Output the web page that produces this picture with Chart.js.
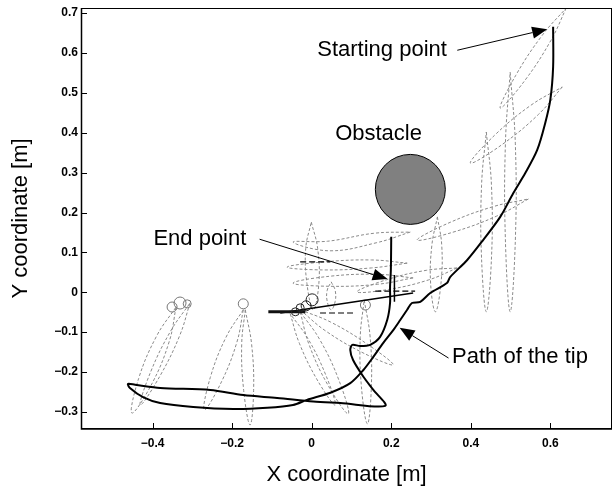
<!DOCTYPE html>
<html>
<head>
<meta charset="utf-8">
<script src="https://cdn.jsdelivr.net/npm/chart.js@4.4.0/dist/chart.umd.min.js"></script>
<style>
  html, body { margin: 0; padding: 0; background: #fff; }
  canvas { display: block; }
</style>
</head>
<body>
<canvas id="graph" width="614" height="491"></canvas>
<script>
// axis ticks
var xTicks = [-0.4, -0.2, 0, 0.2, 0.4, 0.6];
var yTicks = [-0.3, -0.2, -0.1, 0, 0.1, 0.2, 0.3, 0.4, 0.5, 0.6, 0.7];

// path of the tip [x, y] in m
var tipPath = [
  [0.607, 0.666], [0.607, 0.566], [0.600, 0.483], [0.587, 0.424], [0.567, 0.357],
  [0.537, 0.299], [0.507, 0.249], [0.474, 0.189], [0.431, 0.131], [0.391, 0.081],
  [0.348, 0.038], [0.340, 0.023], [0.298, -0.002], [0.273, -0.024], [0.252, -0.027],
  [0.240, -0.044], [0.223, -0.069], [0.205, -0.095], [0.180, -0.127], [0.155, -0.162],
  [0.130, -0.195], [0.097, -0.228], [0.047, -0.252], [-0.012, -0.270], [-0.047, -0.283],
  [-0.112, -0.290], [-0.197, -0.293], [-0.298, -0.288], [-0.381, -0.278], [-0.424, -0.263],
  [-0.457, -0.240], [-0.462, -0.230], [-0.444, -0.232], [-0.381, -0.240], [-0.255, -0.245],
  [-0.172, -0.258], [-0.087, -0.265], [0.004, -0.274], [0.072, -0.278], [0.185, -0.285],
  [0.155, -0.245], [0.130, -0.212], [0.104, -0.170], [0.097, -0.145], [0.102, -0.132],
  [0.122, -0.135], [0.147, -0.132], [0.172, -0.112], [0.190, -0.069], [0.197, -0.027],
  [0.197, 0.013], [0.199, 0.056], [0.200, 0.139]
];

// dashed outlines of the links (manipulator snapshots)
var linkOutlines = [
  [[0.640, 0.713], [0.601, 0.631], [0.535, 0.530], [0.474, 0.462], [0.513, 0.544], [0.580, 0.645], [0.640, 0.713]],
  [[0.630, 0.515], [0.570, 0.446], [0.478, 0.370], [0.399, 0.324], [0.459, 0.393], [0.551, 0.469], [0.630, 0.515]],
  [[0.499, 0.552], [0.512, 0.372], [0.512, 0.131], [0.499, -0.049], [0.487, 0.131], [0.487, 0.372], [0.499, 0.552]],
  [[0.439, 0.402], [0.452, 0.267], [0.452, 0.086], [0.439, -0.049], [0.427, 0.086], [0.427, 0.267], [0.439, 0.402]],
  [[0.316, 0.189], [0.327, 0.117], [0.325, 0.022], [0.311, -0.049], [0.299, 0.022], [0.302, 0.117], [0.316, 0.189]],
  [[0.545, 0.234], [0.465, 0.191], [0.353, 0.150], [0.265, 0.131], [0.345, 0.174], [0.457, 0.215], [0.545, 0.234]],
  [[0.248, 0.151], [0.162, 0.124], [0.044, 0.104], [-0.047, 0.126], [0.040, 0.128], [0.157, 0.148], [0.248, 0.151]],
  [[0.255, 0.036], [0.165, 0.020], [0.044, 0.015], [-0.047, 0.023], [0.044, 0.040], [0.165, 0.045], [0.255, 0.036]],
  [[0.366, 0.061], [0.294, 0.031], [0.193, 0.007], [0.114, 0.001], [0.187, 0.031], [0.288, 0.055], [0.366, 0.061]],
  [[0.240, 0.073], [0.150, 0.061], [0.029, 0.056], [-0.062, 0.063], [0.029, 0.076], [0.150, 0.081], [0.240, 0.073]],
  [[-0.001, 0.176], [0.015, 0.110], [0.018, 0.022], [0.004, -0.044], [-0.012, 0.022], [-0.015, 0.110], [-0.001, 0.176]],
  [[0.049, 0.026], [0.059, 0.005], [0.059, -0.023], [0.049, -0.044], [0.039, -0.023], [0.039, 0.005], [0.049, 0.026]],
  [[0.132, -0.019], [0.147, -0.113], [0.150, -0.237], [0.140, -0.330], [0.125, -0.237], [0.122, -0.113], [0.132, -0.019]],
  [[-0.029, -0.044], [0.035, -0.097], [0.129, -0.152], [0.205, -0.182], [0.141, -0.131], [0.048, -0.075], [-0.029, -0.044]],
  [[-0.029, -0.049], [-0.006, -0.133], [0.042, -0.235], [0.092, -0.305], [0.069, -0.222], [0.021, -0.120], [-0.029, -0.049]],
  [[-0.054, -0.054], [-0.031, -0.128], [0.014, -0.220], [0.059, -0.283], [0.036, -0.209], [-0.009, -0.117], [-0.054, -0.054]],
  [[-0.172, -0.044], [-0.188, -0.125], [-0.227, -0.225], [-0.270, -0.295], [-0.255, -0.214], [-0.216, -0.114], [-0.172, -0.044]],
  [[-0.167, -0.044], [-0.151, -0.131], [-0.146, -0.246], [-0.155, -0.333], [-0.171, -0.246], [-0.176, -0.131], [-0.167, -0.044]],
  [[-0.341, -0.037], [-0.358, -0.123], [-0.402, -0.230], [-0.452, -0.303], [-0.435, -0.216], [-0.390, -0.110], [-0.341, -0.037]],
  [[-0.306, -0.027], [-0.332, -0.109], [-0.382, -0.211], [-0.431, -0.283], [-0.405, -0.200], [-0.355, -0.098], [-0.306, -0.027]]
];

// small joint circles
var grayJoints = [[-0.351, -0.037], [-0.331, -0.027], [-0.313, -0.029], [-0.172, -0.029], [0.135, -0.032]];
var blackJoints = [[0.001, -0.019], [-0.014, -0.034], [-0.029, -0.039], [-0.041, -0.049]];

// solid black link segments and dashed black segments
var solidLinks = [
  [[-0.079, -0.052], [0.255, -0.002]],
  [[0.208, 0.043], [0.208, -0.024]]
];
var dashedLinks = [
  [[-0.029, 0.076], [0.047, 0.076]],
  [[0.160, 0.003], [0.260, 0.003]],
  [[0.021, -0.052], [0.109, -0.052]]
];
var gripper = [[-0.109, -0.049], [-0.016, -0.049]];

var obstacleCenter = [0.248, 0.258];

// annotations
var noteText = ["Starting point", "Obstacle", "End point", "Path of the tip"];
var noteX = [0.014, 0.059, -0.398, 0.353];
var noteY = [0.607, 0.397, 0.134, -0.161];
var arrowTail = [[0.366, 0.607], null, [-0.131, 0.133], [0.344, -0.165]];
var arrowTip = [[0.592, 0.660], null, [0.191, 0.033], [0.221, -0.089]];

function toPoints(arr) {
  return arr.map(function(p) { return { x: p[0], y: p[1] }; });
}

function tickLabel(v) {
  if (Math.abs(v) < 1e-9) return "0";
  return (v < 0 ? "\u2212" : "") + Math.abs(v).toFixed(1);
}

var datasets = [];

datasets.push({
  label: "Path of the tip",
  data: toPoints(tipPath),
  showLine: true,
  borderColor: "#000",
  borderWidth: 2,
  pointRadius: 0,
  tension: 0.3,
  order: 1
});

datasets.push({
  label: "Obstacle",
  data: toPoints([obstacleCenter]),
  pointRadius: 35,
  backgroundColor: "#808080",
  borderColor: "#000",
  borderWidth: 1,
  order: 2
});

datasets.push({
  label: "black joints",
  data: toPoints(blackJoints),
  pointRadius: [6, 5, 4, 4],
  backgroundColor: "rgba(255,255,255,0)",
  borderColor: "#222",
  borderWidth: 1,
  order: 3
});

datasets.push({
  label: "gray joints",
  data: toPoints(grayJoints),
  pointRadius: [5, 6, 4, 5, 5],
  backgroundColor: "rgba(255,255,255,0)",
  borderColor: "#777",
  borderWidth: 1,
  order: 4
});

datasets.push({
  label: "gripper",
  data: toPoints(gripper),
  showLine: true,
  borderColor: "#111",
  borderWidth: 3,
  pointRadius: 0,
  order: 3
});

solidLinks.forEach(function(seg) {
  datasets.push({
    label: "link",
    data: toPoints(seg),
    showLine: true,
    borderColor: "#000",
    borderWidth: 1.5,
    pointRadius: 0,
    order: 3
  });
});

dashedLinks.forEach(function(seg) {
  datasets.push({
    label: "link dashed",
    data: toPoints(seg),
    showLine: true,
    borderColor: "#000",
    borderWidth: 1.2,
    borderDash: [6, 3],
    pointRadius: 0,
    order: 3
  });
});

linkOutlines.forEach(function(shape) {
  datasets.push({
    label: "outline",
    data: toPoints(shape),
    showLine: true,
    borderColor: "#8a8a8a",
    borderWidth: 1,
    borderDash: [3, 2],
    pointRadius: 0,
    tension: 0.4,
    order: 10
  });
});

var overlay = {
  id: "overlay",
  afterDraw: function(chart) {
    var ctx = chart.ctx;
    var a = chart.chartArea;
    var xs = chart.scales.x;
    var ys = chart.scales.y;
    ctx.save();

    // frame
    ctx.strokeStyle = "#000";
    ctx.lineWidth = 1;
    ctx.strokeRect(a.left + 0.5, a.top + 0.5, a.right - a.left - 1, a.bottom - a.top - 1);
    ctx.lineWidth = 1.5;
    ctx.beginPath();
    ctx.moveTo(a.left + 0.5, a.top);
    ctx.lineTo(a.left + 0.5, a.bottom);
    ctx.lineTo(a.right, a.bottom);
    ctx.stroke();

    // inward ticks
    ctx.lineWidth = 1;
    ctx.beginPath();
    xTicks.forEach(function(v) {
      var px = Math.round(xs.getPixelForValue(v)) + 0.5;
      ctx.moveTo(px, a.bottom);
      ctx.lineTo(px, a.bottom - 6);
    });
    yTicks.forEach(function(v) {
      var py = Math.round(ys.getPixelForValue(v)) + 0.5;
      ctx.moveTo(a.left, py);
      ctx.lineTo(a.left + 6, py);
    });
    ctx.stroke();

    // notes and arrows
    ctx.fillStyle = "#000";
    ctx.font = "22px 'Liberation Sans', Arial, sans-serif";
    ctx.textBaseline = "middle";
    ctx.textAlign = "left";
    for (var i = 0; i < noteText.length; i++) {
      ctx.fillText(noteText[i], xs.getPixelForValue(noteX[i]), ys.getPixelForValue(noteY[i]));
      if (!arrowTail[i]) continue;
      var x0 = xs.getPixelForValue(arrowTail[i][0]);
      var y0 = ys.getPixelForValue(arrowTail[i][1]);
      var x1 = xs.getPixelForValue(arrowTip[i][0]);
      var y1 = ys.getPixelForValue(arrowTip[i][1]);
      var ang = Math.atan2(y1 - y0, x1 - x0);
      var hl = 15, hw = 6;
      var bx = x1 - hl * Math.cos(ang);
      var by = y1 - hl * Math.sin(ang);
      ctx.lineWidth = 1;
      ctx.beginPath();
      ctx.moveTo(x0, y0);
      ctx.lineTo(bx, by);
      ctx.stroke();
      ctx.beginPath();
      ctx.moveTo(x1, y1);
      ctx.lineTo(bx + hw * Math.sin(ang), by - hw * Math.cos(ang));
      ctx.lineTo(bx - hw * Math.sin(ang), by + hw * Math.cos(ang));
      ctx.closePath();
      ctx.fill();
    }
    ctx.restore();
  }
};

var tickFont = { family: "'Liberation Sans', Arial, sans-serif", size: 12, weight: "bold" };
var titleFont = { family: "'Liberation Sans', Arial, sans-serif", size: 22 };

var chart = new Chart(document.getElementById("graph").getContext("2d"), {
  type: "scatter",
  data: { datasets: datasets },
  options: {
    responsive: false,
    animation: false,
    events: [],
    layout: { autoPadding: false, padding: { left: 0, right: 2, top: 8, bottom: 0 } },
    plugins: {
      legend: { display: false },
      tooltip: { enabled: false }
    },
    scales: {
      x: {
        type: "linear",
        min: -0.58,
        max: 0.755,
        grid: { display: false, drawTicks: false },
        border: { display: false },
        afterBuildTicks: function(scale) {
          scale.ticks = xTicks.map(function(v) { return { value: v }; });
        },
        afterFit: function(scale) {
          scale.height = 62;
          scale.paddingLeft = 0;
          scale.paddingRight = 0;
        },
        ticks: {
          color: "#000",
          font: tickFont,
          padding: 7,
          maxRotation: 0,
          autoSkip: false,
          callback: function(v) { return tickLabel(v); }
        },
        title: {
          display: true,
          text: "X coordinate [m]",
          color: "#000",
          font: titleFont,
          padding: { top: 0, bottom: 3 }
        }
      },
      y: {
        type: "linear",
        min: -0.343,
        max: 0.713,
        grid: { display: false, drawTicks: false },
        border: { display: false },
        afterBuildTicks: function(scale) {
          scale.ticks = yTicks.map(function(v) { return { value: v }; });
        },
        afterFit: function(scale) {
          scale.width = 81;
          scale.paddingTop = 0;
          scale.paddingBottom = 0;
        },
        ticks: {
          color: "#000",
          font: tickFont,
          padding: 3,
          autoSkip: false,
          callback: function(v) { return tickLabel(v); }
        },
        title: {
          display: true,
          text: "Y coordinate [m]",
          color: "#000",
          font: titleFont,
          padding: { top: 8, bottom: 0 }
        }
      }
    }
  },
  plugins: [overlay]
});
</script>
</body>
</html>
